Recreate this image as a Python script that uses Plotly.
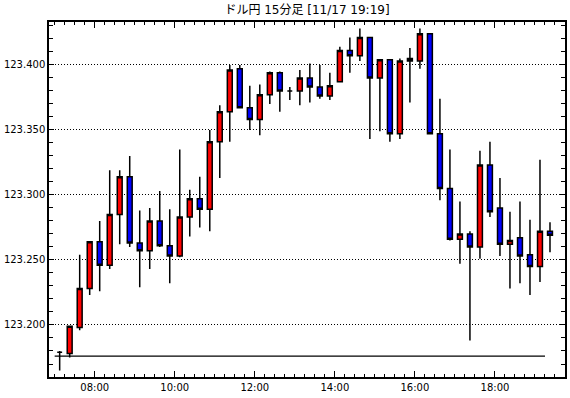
import plotly.graph_objects as go

DAY = "2015-11-17"
times = ["07:00", "07:15", "07:30", "07:45", "08:00", "08:15", "08:30", "08:45",
         "09:00", "09:15", "09:30", "09:45", "10:00", "10:15", "10:30", "10:45",
         "11:00", "11:15", "11:30", "11:45", "12:00", "12:15", "12:30", "12:45",
         "13:00", "13:15", "13:30", "13:45", "14:00", "14:15", "14:30", "14:45",
         "15:00", "15:15", "15:30", "15:45", "16:00", "16:15", "16:30", "16:45",
         "17:00", "17:15", "17:30", "17:45", "18:00", "18:15", "18:30", "18:45",
         "19:00", "19:15"]
opens = [123.179, 123.178, 123.198, 123.228, 123.264, 123.246, 123.285, 123.314,
         123.263, 123.257, 123.280, 123.261, 123.253, 123.283, 123.297, 123.289,
         123.341, 123.364, 123.397, 123.367, 123.358, 123.377, 123.394, 123.380,
         123.380, 123.390, 123.383, 123.376, 123.387, 123.411, 123.407, 123.421,
         123.390, 123.404, 123.347, 123.405, 123.403, 123.424, 123.347, 123.305,
         123.266, 123.270, 123.260, 123.323, 123.290, 123.262, 123.267, 123.254,
         123.245, 123.272]
highs = [123.180, 123.199, 123.254, 123.264, 123.280, 123.319, 123.319, 123.330,
         123.288, 123.290, 123.303, 123.289, 123.335, 123.304, 123.314, 123.350,
         123.369, 123.400, 123.400, 123.384, 123.385, 123.395, 123.395, 123.383,
         123.396, 123.401, 123.400, 123.394, 123.414, 123.421, 123.428, 123.421,
         123.404, 123.404, 123.405, 123.413, 123.428, 123.424, 123.374, 123.335,
         123.295, 123.272, 123.334, 123.341, 123.313, 123.287, 123.295, 123.281,
         123.327, 123.279]
lows = [123.165, 123.175, 123.196, 123.223, 123.226, 123.243, 123.262, 123.260,
        123.229, 123.243, 123.260, 123.232, 123.252, 123.268, 123.275, 123.272,
        123.313, 123.341, 123.367, 123.350, 123.346, 123.370, 123.364, 123.373,
        123.369, 123.371, 123.374, 123.373, 123.387, 123.394, 123.403, 123.343,
        123.349, 123.341, 123.343, 123.371, 123.397, 123.347, 123.296, 123.265,
        123.247, 123.188, 123.251, 123.283, 123.253, 123.228, 123.232, 123.223,
        123.233, 123.256]
closes = [123.179, 123.199, 123.228, 123.264, 123.246, 123.285, 123.314, 123.263,
          123.257, 123.280, 123.261, 123.253, 123.283, 123.297, 123.289, 123.341,
          123.364, 123.396, 123.367, 123.358, 123.377, 123.394, 123.380, 123.380,
          123.390, 123.383, 123.376, 123.384, 123.411, 123.407, 123.421, 123.390,
          123.404, 123.347, 123.403, 123.403, 123.424, 123.347, 123.305, 123.266,
          123.270, 123.260, 123.323, 123.287, 123.262, 123.265, 123.253, 123.245,
          123.272, 123.269]
ref_level = 123.176
ref_start, ref_end = "07:00", "19:15"
y_ticks = [123.200, 123.250, 123.300, 123.350, 123.400]
title_text = "ドル円 15分足 [11/17 19:19]"

xs = [f"{DAY} {t}" for t in times]

fig = go.Figure()
fig.add_trace(go.Scatter(
    x=[f"{DAY} {ref_start}", f"{DAY} {ref_end}"], y=[ref_level, ref_level],
    mode="lines", line=dict(color="black", width=1.3), hoverinfo="skip", showlegend=False))
fig.add_trace(go.Candlestick(
    x=xs, open=opens, high=highs, low=lows, close=closes,
    xperiod=15 * 60 * 1000, xperiod0=f"{DAY} 00:00", xperiodalignment="middle",
    increasing=dict(fillcolor="#ff0000", line=dict(color="black", width=1.5)),
    decreasing=dict(fillcolor="#0000ff", line=dict(color="black", width=1.5)),
    whiskerwidth=0, showlegend=False))

font = dict(family="DejaVu Sans, Noto Sans CJK JP", size=11, color="black")
fig.update_layout(
    width=570, height=398,
    margin=dict(l=49, r=5, t=22, b=21, autoexpand=False),
    paper_bgcolor="white", plot_bgcolor="white",
    font=font,
    title=dict(text=title_text, x=0.5, xref="paper", xanchor="center",
               y=1 - 10 / 398, yref="container", yanchor="middle",
               automargin=False,
               font=dict(family="DejaVu Sans, Noto Sans CJK JP", size=12, color="black")),
    showlegend=False,
)
fig.update_xaxes(
    type="date", range=[f"{DAY} 06:51:30", f"{DAY} 19:45"],
    rangeslider=dict(visible=False), automargin=False,
    tick0=f"{DAY} 00:00", dtick=2 * 3600 * 1000, tickformat="%H:%M",
    ticks="inside", ticklen=6, tickwidth=1, tickcolor="black",
    minor=dict(dtick=15 * 60 * 1000, tick0=f"{DAY} 00:00", ticks="inside",
               ticklen=3, tickcolor="black", showgrid=False),
    showgrid=False, zeroline=False,
    showline=True, linecolor="black", linewidth=1.5, mirror="allticks",
    tickfont=dict(size=10),
)
fig.update_yaxes(
    range=[123.160, 123.433], automargin=False,
    tickvals=y_ticks, ticktext=[f"{v:.3f}" for v in y_ticks],
    ticks="inside", ticklen=5, tickwidth=1, tickcolor="black",
    minor=dict(dtick=0.01, tick0=123.0, ticks="inside", ticklen=4,
               tickcolor="black", showgrid=False),
    showgrid=True, gridcolor="black", gridwidth=1, griddash="1px,2px",
    zeroline=False,
    showline=True, linecolor="black", linewidth=1.5, mirror="allticks",
    tickfont=dict(size=10),
)
fig.write_html("out.html", config={"displayModeBar": False},
               post_script="document.body.style.margin='0';document.body.style.overflow='hidden';")
